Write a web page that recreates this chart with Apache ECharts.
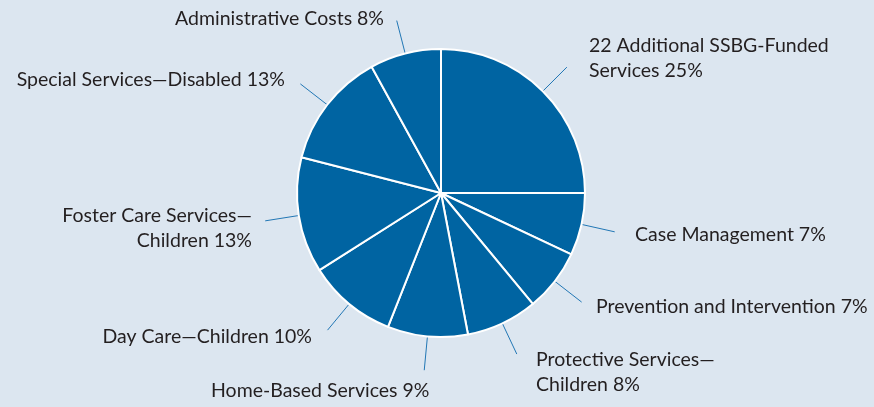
<!DOCTYPE html>
<html>
<head>
<meta charset="utf-8">
<script src="https://cdn.jsdelivr.net/npm/echarts@6/dist/echarts.min.js"></script>
<style>
  html, body { margin: 0; padding: 0; background: #dce6f0; }
  #chart { width: 874px; height: 407px; }
</style>
</head>
<body>
<div id="chart"></div>
<script>
// SSBG expenditure shares, clockwise from 12 o'clock
const categories = [
  '22 Additional SSBG-Funded\nServices',
  'Case Management',
  'Prevention and Intervention',
  'Protective Services—\nChildren',
  'Home-Based Services',
  'Day Care—Children',
  'Foster Care Services—\nChildren',
  'Special Services—Disabled',
  'Administrative Costs'
];
const shares = [25, 7, 7, 8, 9, 10, 13, 13, 8];

// Where each label sits: [x, y, horizontal alignment]
const labelAnchors = [
  [589, 58, 'left'],
  [635, 235, 'left'],
  [596, 307, 'left'],
  [536, 372, 'left'],
  [211, 391, 'left'],
  [312, 337, 'right'],
  [252, 228, 'right'],
  [285, 80, 'right'],
  [384, 19, 'right']
];

const chart = echarts.init(document.getElementById('chart'), null, { renderer: 'canvas' });

chart.setOption({
  backgroundColor: '#dce6f0',
  animation: false,
  series: [{
    type: 'pie',
    center: [441, 193],
    radius: 144,
    startAngle: 90,
    clockwise: true,
    avoidLabelOverlap: false,
    itemStyle: {
      color: '#0064a2',
      borderColor: '#ffffff',
      borderWidth: 2
    },
    label: {
      show: true,
      position: 'outer',
      color: '#231f20',
      fontFamily: 'Lato, "Open Sans", sans-serif',
      fontSize: 19.5,
      lineHeight: 25,
      formatter: p => p.name + ' ' + p.value + '%'
    },
    labelLine: {
      show: true,
      length: 34,
      length2: 0,
      smooth: false,
      lineStyle: { color: '#2277b5', width: 1 }
    },
    labelLayout: params => {
      const a = labelAnchors[params.dataIndex];
      const pts = params.labelLinePoints;
      return {
        x: a[0],
        y: a[1],
        align: a[2],
        verticalAlign: 'middle',
        labelLinePoints: pts ? [pts[0], pts[1], pts[1]] : undefined
      };
    },
    emphasis: { disabled: true },
    data: categories.map((name, i) => ({ name: name, value: shares[i] }))
  }]
});
</script>
</body>
</html>
